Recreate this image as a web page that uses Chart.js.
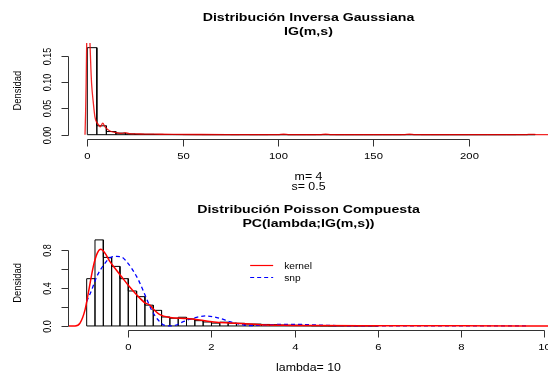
<!DOCTYPE html>
<html>
<head>
<meta charset="utf-8">
<script src="https://cdn.jsdelivr.net/npm/chart.js@4.4.1/dist/chart.umd.min.js"></script>
<style>
  html, body { margin: 0; padding: 0; background: #fff; }
  #wrap { position: relative; width: 548px; height: 374px; overflow: hidden; }
  canvas { position: absolute; left: 0; top: 0; }
</style>
</head>
<body>
<div id="wrap">
  <canvas id="igChart" width="548" height="374"></canvas>
  <canvas id="pcChart" width="548" height="374"></canvas>
</div>
<script>
// --- IG(m,s): histograma (clases de ancho 5 desde 0) + densidad kernel
const igBinStart = 0;
const igBinWidth = 5;
const igDens = [0.166, 0.017, 0.006, 0.003, 0.0015, 0.001, 0.0008, 0.0006, 0.0004, 0.0003,
  0.0002, 0.0002, 0.0001, 0.0001, 0.0001, 0, 0.0001, 0, 0, 0.0001,
  0.0001, 0, 0, 0, 0.0001, 0.0001, 0, 0, 0, 0,
  0, 0, 0, 0.0001, 0.0001, 0, 0, 0, 0, 0,
  0, 0, 0, 0, 0, 0.0001, 0.0001];
const igKernelX = [-1.2, -0.9, -0.6, -0.3, 0.1, 0.5, 0.9, 1.4, 1.9, 2.3, 3.1, 4.0, 4.9, 6.1, 6.8, 8.1, 9.3,
  11.9, 15.4, 18, 20, 22, 26, 30, 35, 45, 60, 80, 100, 103, 106, 122, 125, 128, 150, 166, 169, 172,
  200, 230, 233, 236, 245];
const igKernelY = [0, 0.04, 0.10, 0.18, 0.26, 0.29, 0.25, 0.175, 0.125, 0.095, 0.063, 0.034, 0.024, 0.018, 0.015, 0.022, 0.015,
  0.007, 0.004, 0.0025, 0.004, 0.002, 0.0015, 0.0012, 0.001, 0.0006, 0.0004, 0.0003, 0.0002, 0.0009, 0.0002, 0.0002, 0.0009, 0.0002, 0.0001, 0.0001, 0.0009, 0.0001,
  0.0001, 0.0001, 0.0008, 0.0001, 0];
const igTicksX = [0, 50, 100, 150, 200];
const igTicksY = [0, 0.05, 0.10, 0.15];
const igTickLabelsY = ["0.00", "0.05", "0.10", "0.15"];

// --- PC(lambda;IG(m,s)): histograma (ancho 0.2 desde -1) + kernel + snp
const pcBinStart = -1.0;
const pcBinWidth = 0.2;
const pcDens = [0.50, 0.91, 0.725, 0.63, 0.50, 0.37, 0.31, 0.22, 0.165, 0.095,
  0.082, 0.092, 0.074, 0.056, 0.042, 0.03, 0.04, 0.03, 0.028, 0.02,
  0.02, 0.016, 0.014, 0.01, 0.008, 0.008, 0.004, 0.002, 0.001, 0,
  0.001, 0.002, 0.001, 0.002, 0.001];
const pcKernelX = [-1.425, -1.28, -1.16, -1.04, -0.96, -0.84, -0.745, -0.66, -0.56, -0.44, -0.32, -0.16,
  0.0, 0.2, 0.4, 0.52, 0.6, 0.76, 1.0, 1.4, 1.72, 1.96, 2.12, 2.6, 3.17, 3.73, 4.5, 6, 8, 10.1];
const pcKernelY = [0, 0, 0.03, 0.17, 0.35, 0.63, 0.77, 0.81, 0.77, 0.68, 0.61, 0.52,
  0.43, 0.33, 0.245, 0.22, 0.18, 0.12, 0.09, 0.078, 0.062, 0.047, 0.039, 0.028, 0.014, 0.007, 0.004, 0.002, 0.001, 0];
const pcSnpX = [-1.0, -0.88, -0.76, -0.6, -0.44, -0.28, -0.16, -0.04, 0.08, 0.24, 0.4, 0.56, 0.72, 0.88,
  1.0, 1.12, 1.32, 1.64, 1.86, 2.2, 2.44, 2.68, 2.92, 3.2, 3.6, 4.0, 4.4, 5.0, 6.0, 8.0, 9.6];
const pcSnpY = [0.26, 0.38, 0.52, 0.64, 0.72, 0.735, 0.73, 0.68, 0.61, 0.49, 0.33, 0.17, 0.063, 0.005,
  0.0, 0.005, 0.045, 0.092, 0.106, 0.081, 0.045, 0.018, 0.004, 0.008, 0.016, 0.017, 0.012, 0.004, 0.001, 0.0, 0.0];
const pcTicksX = [0, 2, 4, 6, 8, 10];
const pcTicksY = [0, 0.2, 0.4, 0.6, 0.8];
const pcTickLabelsY = ["0.0", "", "0.4", "", "0.8"];

const FONT = '"Liberation Sans", Arial, Helvetica, sans-serif';
const SX = 1.2; // el texto sale algo ensanchado en horizontal

// contorno de cada barra del histograma, recorrido con puntos (x, densidad)
function histOutline(start, width, dens) {
  const pts = [];
  dens.forEach((h, i) => {
    const x0 = start + i * width, x1 = x0 + width;
    pts.push({x: x0, y: 0}, {x: x0, y: h}, {x: x1, y: h}, {x: x1, y: 0});
  });
  pts.push({x: start, y: 0});
  return pts;
}

function zip(xs, ys) {
  return xs.map((x, i) => ({x: x, y: ys[i]}));
}

function put(ctx, s, x, y, size, opt) {
  opt = opt || {};
  ctx.save();
  ctx.translate(x, y);
  ctx.scale(SX, 1);
  if (opt.rotate) ctx.rotate(-Math.PI / 2);
  ctx.font = (opt.bold ? 'bold ' : '') + size + 'px ' + FONT;
  ctx.textAlign = opt.align || 'center';
  ctx.textBaseline = 'alphabetic';
  ctx.fillStyle = '#000';
  ctx.fillText(s, 0, 0);
  ctx.restore();
}

// ejes al estilo de R: linea solo entre el primer y ultimo tick, etiquetas y rotuladas
function rPanel(cfg) {
  return {
    id: 'rPanel',
    afterDraw(chart) {
      const ctx = chart.ctx, a = chart.chartArea;
      const xs = chart.scales.x, ys = chart.scales.y;
      const axY = Math.round(a.bottom) + 1.5;
      const axX = Math.round(a.left) - 0.5;
      const midX = (a.left + a.right) / 2, midY = (a.top + a.bottom) / 2;

      ctx.save();
      ctx.strokeStyle = '#333';
      ctx.lineWidth = 1;
      ctx.beginPath();
      const tx = cfg.ticksX.map(v => Math.round(xs.getPixelForValue(v)) + 0.5);
      ctx.moveTo(tx[0], axY);
      ctx.lineTo(tx[tx.length - 1], axY);
      tx.forEach(p => { ctx.moveTo(p, axY); ctx.lineTo(p, axY + 7); });
      const ty = cfg.ticksY.map(v => Math.round(ys.getPixelForValue(v)) + 0.5);
      ctx.moveTo(axX, ty[0]);
      ctx.lineTo(axX, ty[ty.length - 1]);
      ty.forEach(p => { ctx.moveTo(axX, p); ctx.lineTo(axX - 7, p); });
      ctx.stroke();
      ctx.restore();

      cfg.ticksX.forEach((v, i) => put(ctx, String(v), tx[i], axY + 19.5, 9.4));
      cfg.labelsY.forEach((s, i) => { if (s) put(ctx, s, axX - 18, ty[i], 9, {rotate: true}); });
      put(ctx, 'Densidad', 20.5, midY, 9.4, {rotate: true});

      put(ctx, cfg.title[0], midX, cfg.titleY[0], 11.8, {bold: true});
      put(ctx, cfg.title[1], midX, cfg.titleY[1], 11.8, {bold: true});
      cfg.sub.forEach((s, i) => put(ctx, s, midX, axY + 40.5 + i * 10, 10.3));

      if (cfg.legend) {
        const lx = xs.getPixelForValue(cfg.legend.x), ly = ys.getPixelForValue(cfg.legend.y);
        cfg.legend.items.forEach((it, i) => {
          const y = Math.round(ly + i * 12.5) + 0.5;
          ctx.save();
          ctx.strokeStyle = it.color;
          ctx.lineWidth = 1.2;
          ctx.setLineDash(it.dash || []);
          ctx.beginPath();
          ctx.moveTo(lx, y);
          ctx.lineTo(lx + 23, y);
          ctx.stroke();
          ctx.restore();
          put(ctx, it.label, lx + 34, y + 3, 8.5, {align: 'left'});
        });
      }
    }
  };
}

function panelChart(id, cfg, datasets) {
  return new Chart(document.getElementById(id), {
    type: 'scatter',
    data: { datasets: datasets },
    options: {
      responsive: false,
      animation: false,
      devicePixelRatio: 1,
      layout: { padding: cfg.pad },
      plugins: { legend: { display: false }, tooltip: { enabled: false } },
      scales: {
        x: { type: 'linear', display: false, min: cfg.xMin, max: cfg.xMax },
        y: { type: 'linear', display: false, min: cfg.yMin, max: cfg.yMax }
      },
      elements: { point: { radius: 0, hoverRadius: 0 } }
    },
    plugins: [rPanel(cfg)]
  });
}

panelChart('igChart', {
  pad: { left: 69, right: 0, top: 43, bottom: 235.8 },
  xMin: -9.6, xMax: 241.7, yMin: -0.00667, yMax: 0.1749,
  ticksX: igTicksX, ticksY: igTicksY, labelsY: igTickLabelsY,
  title: ['Distribución Inversa Gaussiana', 'IG(m,s)'], titleY: [20.5, 35],
  sub: ['m= 4', 's= 0.5']
}, [
  { data: zip(igKernelX, igKernelY), showLine: true, borderColor: 'rgba(240,0,0,0.85)', borderWidth: 1.3,
    tension: 0.4, cubicInterpolationMode: 'monotone', clip: 0, order: 1 },
  { data: histOutline(igBinStart, igBinWidth, igDens), showLine: true, borderColor: '#000', borderWidth: 1,
    tension: 0, clip: 0, order: 2 }
]);

panelChart('pcChart', {
  pad: { left: 69, right: 0, top: 236.5, bottom: 44.6 },
  xMin: -1.425, xMax: 10.09, yMin: -0.0364, yMax: 0.946,
  ticksX: pcTicksX, ticksY: pcTicksY, labelsY: pcTickLabelsY,
  title: ['Distribución Poisson Compuesta', 'PC(lambda;IG(m,s))'], titleY: [212.5, 226.5],
  sub: ['lambda= 10'],
  legend: { x: 2.93, y: 0.645, items: [
    { label: 'kernel', color: '#f00' },
    { label: 'snp', color: '#00f', dash: [4, 3] }
  ] }
}, [
  { data: zip(pcKernelX, pcKernelY), showLine: true, borderColor: '#f00', borderWidth: 1.5,
    tension: 0.4, cubicInterpolationMode: 'monotone', clip: 0, order: 1 },
  { data: zip(pcSnpX, pcSnpY), showLine: true, borderColor: '#00f', borderWidth: 1.3, borderDash: [4, 3],
    tension: 0.4, cubicInterpolationMode: 'monotone', clip: 0, order: 2 },
  { data: histOutline(pcBinStart, pcBinWidth, pcDens), showLine: true, borderColor: '#000', borderWidth: 1,
    tension: 0, clip: 0, order: 3 }
]);
</script>
</body>
</html>
